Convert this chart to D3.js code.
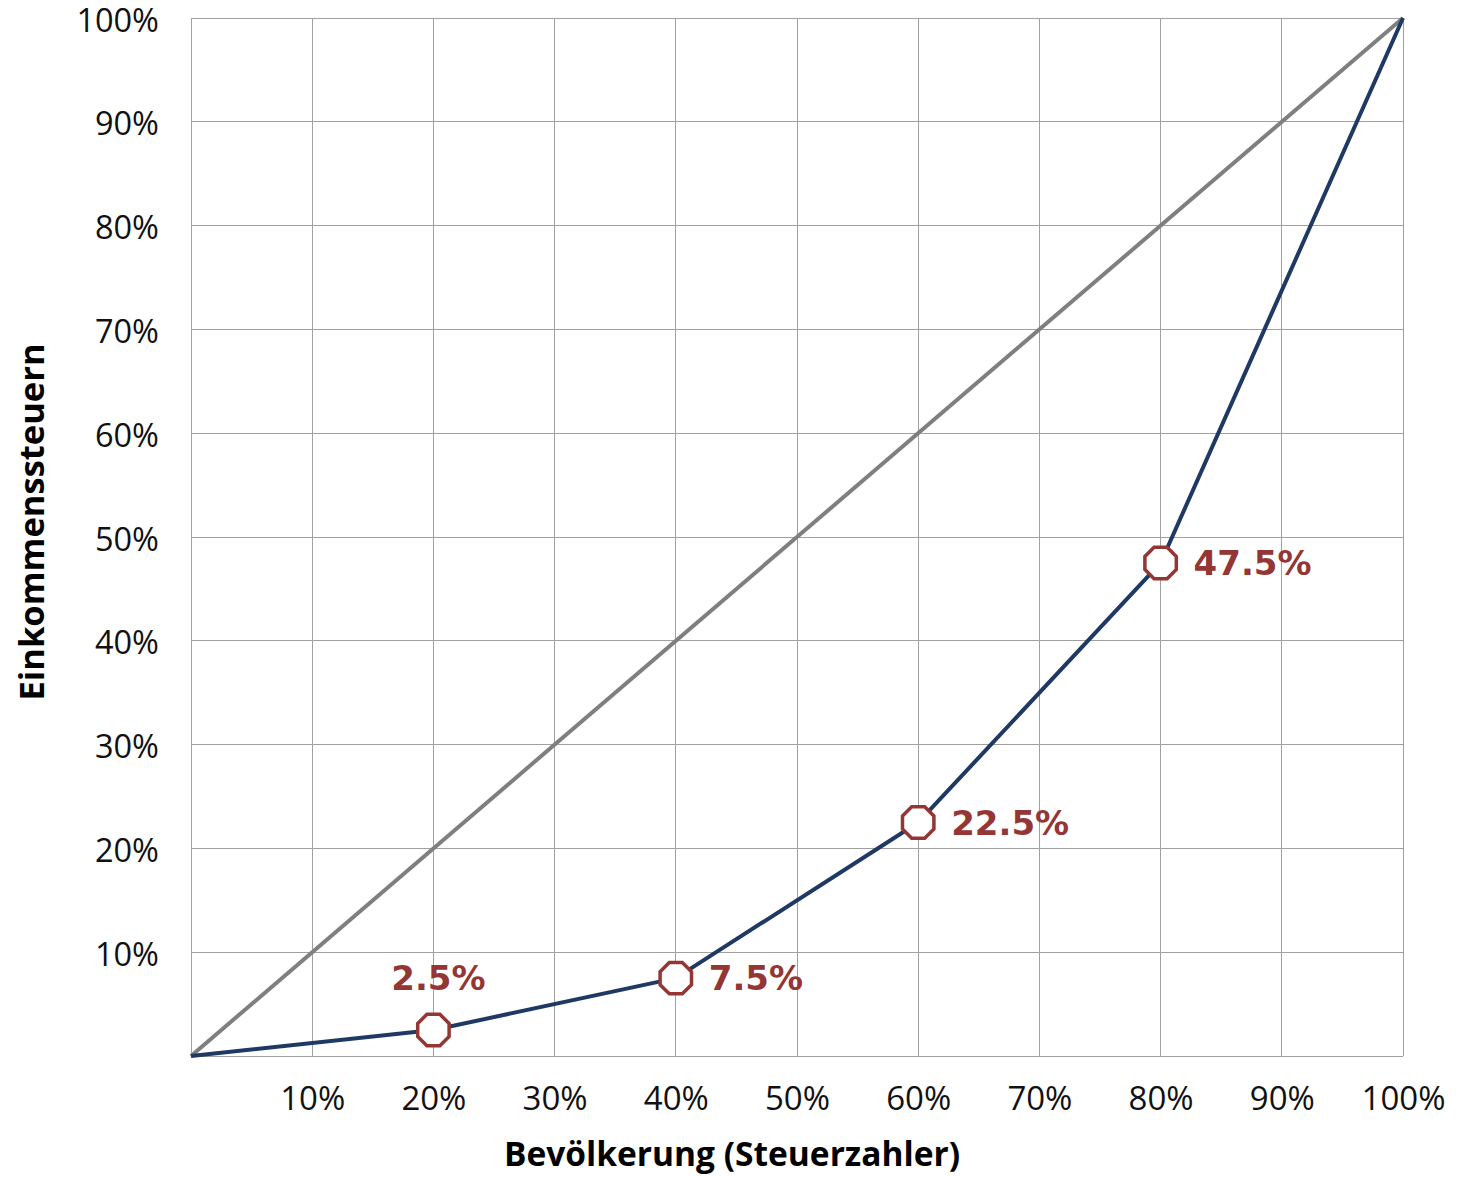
<!DOCTYPE html>
<html>
<head>
<meta charset="utf-8">
<script src="https://cdn.jsdelivr.net/npm/d3@7"></script>
<style>
  html, body { margin: 0; padding: 0; background: #fff; }
  svg { display: block; }
</style>
</head>
<body>
<svg id="chart" width="1457" height="1177"></svg>
<script>
// Lorenz-style curve: cumulative share of income tax by share of taxpayers
const population = [0, 20, 40, 60, 80, 100];
const taxShare = [0, 2.5, 7.5, 22.5, 47.5, 100];
const equality = [0, 100];
const labelled = [20, 40, 60, 80];
const labelText = ["2.5%", "7.5%", "22.5%", "47.5%"];
const xTicks = [10, 20, 30, 40, 50, 60, 70, 80, 90, 100];
const yTicks = [10, 20, 30, 40, 50, 60, 70, 80, 90, 100];

const svg = d3.select("#chart");
const margin = { left: 191, right: 54, top: 18, bottom: 121 };
const W = 1457, H = 1177;

const x = d3.scaleLinear().domain([0, 100]).range([margin.left, W - margin.right]);
const y = d3.scaleLinear().domain([0, 100]).range([H - margin.bottom, margin.top]);

const tickFont = "'Open Sans', 'Noto Sans', sans-serif";
const valueFont = "'DejaVu Sans', sans-serif";
const gridColor = "#a0a0a0";
const red = "#943634";

// gridlines
const grid = svg.append("g");
grid.selectAll("line.v").data([0, ...xTicks]).join("line")
  .attr("x1", d => x(d)).attr("x2", d => x(d))
  .attr("y1", y(0)).attr("y2", y(100))
  .attr("stroke", gridColor).attr("stroke-width", 1).attr("shape-rendering", "crispEdges");
grid.selectAll("line.h").data([0, ...yTicks]).join("line")
  .attr("x1", x(0)).attr("x2", x(100))
  .attr("y1", d => y(d)).attr("y2", d => y(d))
  .attr("stroke", gridColor).attr("stroke-width", 1).attr("shape-rendering", "crispEdges");

// axes (labels only)
const xAxis = svg.append("g")
  .attr("transform", `translate(0,${y(0)})`)
  .call(d3.axisBottom(x).tickValues(xTicks).tickFormat(d => d + "%").tickSize(0).tickPadding(31));
xAxis.select(".domain").remove();
xAxis.selectAll("text").attr("font-family", tickFont).attr("font-size", 33).attr("fill", "#111");

const yAxis = svg.append("g")
  .attr("transform", `translate(${x(0)},0)`)
  .call(d3.axisLeft(y).tickValues(yTicks).tickFormat(d => d + "%").tickSize(0).tickPadding(32));
yAxis.select(".domain").remove();
yAxis.selectAll("text").attr("font-family", tickFont).attr("font-size", 32.5)
  .attr("dy", "0.4em").attr("fill", "#111");

// line of equality
svg.append("path")
  .datum(equality)
  .attr("d", d3.line().x(d => x(d)).y(d => y(d)))
  .attr("fill", "none").attr("stroke", "#7f7f7f").attr("stroke-width", 4);

// tax distribution curve
const pts = population.map((p, i) => [p, taxShare[i]]);
svg.append("path")
  .datum(pts)
  .attr("d", d3.line().x(d => x(d[0])).y(d => y(d[1])))
  .attr("fill", "none").attr("stroke", "#1f3864").attr("stroke-width", 4)
  .attr("stroke-linejoin", "round");

// octagon markers
const r = 17;
const octagon = d3.range(8).map(k => {
  const a = Math.PI / 8 + k * Math.PI / 4;
  return [r * Math.cos(a), r * Math.sin(a)];
});
const markerData = labelled.map((p, i) => ({ p, v: taxShare[population.indexOf(p)], label: labelText[i] }));
svg.selectAll("path.marker").data(markerData).join("path")
  .attr("class", "marker")
  .attr("transform", d => `translate(${x(d.p)},${y(d.v)})`)
  .attr("d", "M" + octagon.map(c => c.join(",")).join("L") + "Z")
  .attr("fill", "#fff").attr("stroke", red).attr("stroke-width", 3.5);

// value labels
svg.selectAll("text.val").data(markerData).join("text")
  .attr("class", "val")
  .attr("x", d => d.p === 20 ? x(d.p) + 5 : x(d.p) + 33)
  .attr("y", d => d.p === 20 ? y(d.v) - 52 : y(d.v))
  .attr("dy", "0.36em")
  .attr("text-anchor", d => d.p === 20 ? "middle" : "start")
  .attr("font-family", valueFont).attr("font-weight", "bold").attr("font-size", 34)
  .attr("fill", red)
  .text(d => d.label);

// axis titles
svg.append("text")
  .attr("x", 732).attr("y", 1166)
  .attr("text-anchor", "middle")
  .attr("font-family", tickFont).attr("font-weight", "bold").attr("font-size", 33.5)
  .attr("fill", "#000")
  .text("Bevölkerung (Steuerzahler)");

svg.append("text")
  .attr("transform", `translate(44,522) rotate(-90)`)
  .attr("text-anchor", "middle")
  .attr("font-family", tickFont).attr("font-weight", "bold").attr("font-size", 34.5)
  .attr("fill", "#000")
  .text("Einkommenssteuern");
</script>
</body>
</html>
